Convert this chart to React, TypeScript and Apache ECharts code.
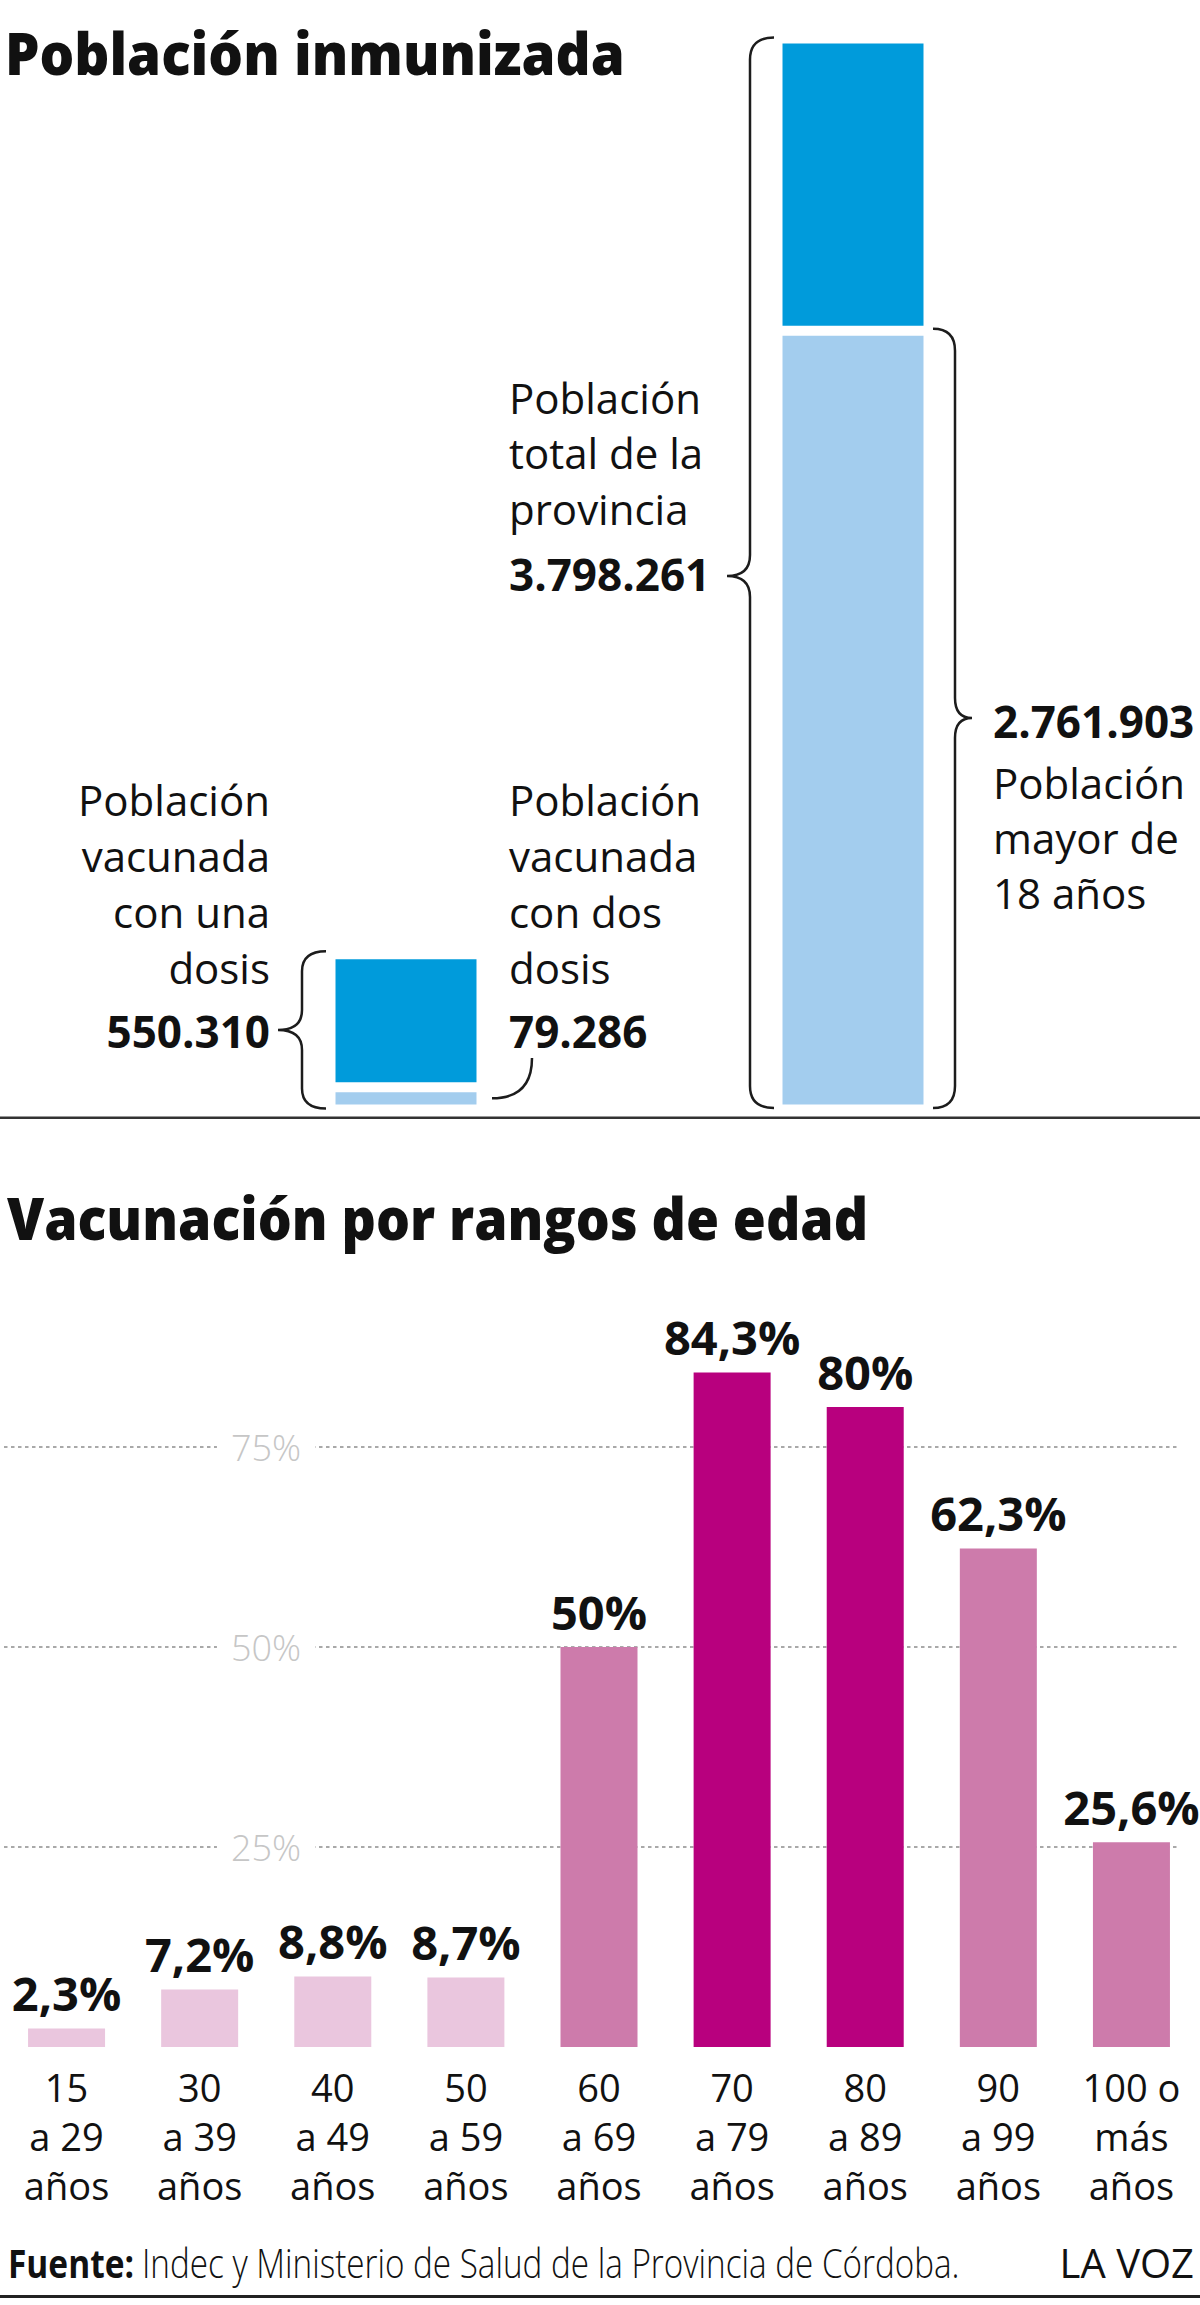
import React, { useEffect, useRef } from "react";
import * as echarts from "echarts";

// ---- Población inmunizada ----
const popCategories = ["Vacunados", "Provincia"];
const totalProvincia = 3798261;
const mayores18 = 2761903;
const unaDosis = 550310;
const dosDosis = 79286;
// light (lower) and dark (upper) segments of each stacked bar
const popBase = [dosDosis, mayores18];
const popRest = [unaDosis - dosDosis, totalProvincia - mayores18];

// ---- Vacunación por rangos de edad ----
const ageRanges = [
  "15\na 29\naños",
  "30\na 39\naños",
  "40\na 49\naños",
  "50\na 59\naños",
  "60\na 69\naños",
  "70\na 79\naños",
  "80\na 89\naños",
  "90\na 99\naños",
  "100 o\nmás\naños",
];
const agePct = [2.3, 7.2, 8.8, 8.7, 50, 84.3, 80, 62.3, 25.6];
const ageTone = ["low", "low", "low", "low", "mid", "high", "high", "mid", "mid"];
const pctTicks = [0, 25, 50, 75, 100];

const toneColor: Record<string, string> = {
  low: "#eac6de",
  mid: "#cd7bab",
  high: "#b8007e",
};
const BLUE_DARK = "#009bdb";
const BLUE_LIGHT = "#a3cdee";
const INK = "#111111";
const SANS = '"Open Sans", "Noto Sans", "DejaVu Sans", sans-serif';

const Brace = echarts.graphic.extendShape({
  type: "brace",
  shape: { x: 0, y1: 0, y2: 0, ym: 0, dir: 1, w: 24, d: 24, h: 20, r: 22 },
  buildPath(ctx: any, s: any) {
    const k = s.dir;
    ctx.moveTo(s.x + k * s.w, s.y1);
    ctx.quadraticCurveTo(s.x, s.y1, s.x, s.y1 + s.r);
    ctx.lineTo(s.x, s.ym - s.h);
    ctx.quadraticCurveTo(s.x, s.ym, s.x - k * s.d, s.ym);
    ctx.quadraticCurveTo(s.x, s.ym, s.x, s.ym + s.h);
    ctx.lineTo(s.x, s.y2 - s.r);
    ctx.quadraticCurveTo(s.x, s.y2, s.x + k * s.w, s.y2);
  },
});
echarts.graphic.registerShape("brace", Brace);

let measureCtx: CanvasRenderingContext2D | null = null;
function measure(text: string, size: number, weight: string | number) {
  if (!measureCtx) measureCtx = document.createElement("canvas").getContext("2d");
  measureCtx!.font = `${weight} ${size}px ${SANS}`;
  return measureCtx!.measureText(text).width;
}

function thousands(n: number) {
  return String(n).replace(/\B(?=(\d{3})+(?!\d))/g, ".");
}

function txt(
  text: string,
  x: number,
  baseline: number,
  size: number,
  weight: string | number,
  align = "left",
  fitWidth?: number
) {
  const sx = fitWidth ? fitWidth / measure(text, size, weight) : 1;
  return {
    type: "text",
    x,
    y: baseline - 0.36 * size,
    scaleX: sx,
    silent: true,
    style: {
      text,
      fill: INK,
      fontSize: size,
      fontWeight: weight,
      fontFamily: SANS,
      align,
      verticalAlign: "middle",
    },
  };
}

const BAR_W = 151;
const BORDER = 5;

export default function App() {
  const ref = useRef<HTMLDivElement>(null);

  useEffect(() => {
    if (!ref.current) return;
    const chart = echarts.init(ref.current, undefined, { renderer: "svg" });

    chart.setOption({
      animation: false,
      backgroundColor: "#ffffff",
      grid: [
        { left: 182.5, top: 38.5, width: 894, height: 1071 },
        { left: -2, top: 1247, width: 1200, height: 800 },
        { left: 4, top: 1247, width: 1173, height: 800 },
      ],
      xAxis: [
        { type: "category", gridIndex: 0, data: popCategories, show: false },
        {
          type: "category",
          gridIndex: 1,
          data: ageRanges,
          axisLine: { show: false },
          axisTick: { show: false },
          axisLabel: {
            interval: 0,
            margin: 15,
            color: INK,
            fontFamily: SANS,
            fontSize: 38,
            lineHeight: 49,
          },
        },
        { type: "value", gridIndex: 2, min: 0, max: 1, show: false },
      ],
      yAxis: [
        { type: "value", gridIndex: 0, min: 0, max: totalProvincia, show: false },
        { type: "value", gridIndex: 1, min: 0, max: 100, show: false },
        {
          type: "value",
          gridIndex: 2,
          min: pctTicks[0],
          max: pctTicks[pctTicks.length - 1],
          interval: pctTicks[1] - pctTicks[0],
          position: "left",
          offset: -262,
          axisLine: { show: false },
          axisTick: { show: false },
          splitLine: {
            show: true,
            showMinLine: false,
            showMaxLine: false,
            lineStyle: { color: "#a9a9a9", width: 2, type: [3.5, 3.5] },
          },
          axisLabel: {
            showMinLabel: false,
            showMaxLabel: false,
            formatter: (v: number) => (v === 0 || v === 100 ? "" : v + "%"),
            align: "center",
            margin: 0,
            color: "#c6c6c6",
            fontFamily: SANS,
            fontWeight: 300,
            fontSize: 36,
            backgroundColor: "#ffffff",
            padding: [0, 14, 7, 14],
          },
        },
      ],
      series: [
        {
          type: "bar",
          xAxisIndex: 0,
          yAxisIndex: 0,
          stack: "pob",
          data: popBase,
          barWidth: BAR_W,
          itemStyle: { color: BLUE_LIGHT, borderColor: "#ffffff", borderWidth: BORDER },
        },
        {
          type: "bar",
          xAxisIndex: 0,
          yAxisIndex: 0,
          stack: "pob",
          data: popRest,
          barWidth: BAR_W,
          itemStyle: { color: BLUE_DARK, borderColor: "#ffffff", borderWidth: BORDER },
        },
        {
          type: "bar",
          xAxisIndex: 1,
          yAxisIndex: 1,
          barWidth: 77,
          data: agePct.map((v, i) => ({ value: v, itemStyle: { color: toneColor[ageTone[i]] } })),
          label: {
            show: true,
            position: "top",
            distance: 12,
            formatter: (p: any) => String(p.value).replace(".", ",") + "%",
            color: INK,
            fontFamily: SANS,
            fontWeight: "bold",
            fontSize: 47,
          },
        },
      ],
    });

    // Bracket geometry follows the stacked bars
    const px = (i: number, v: number) =>
      chart.convertToPixel({ gridIndex: 0 }, [i, v]) as number[];
    const half = BAR_W / 2 - BORDER / 2;
    const [cS, baseY] = px(0, 0);
    const [cB] = px(1, 0);
    const topSmall = px(0, unaDosis)[1];
    const topBig = px(1, totalProvincia)[1];
    const splitBig = px(1, mayores18)[1];
    const splitSmall = px(0, dosDosis)[1];
    const braceStyle = { stroke: "#1c1c1c", lineWidth: 2.5, fill: "none" };

    const elements: any[] = [
      // titles
      txt("Población inmunizada", 5, 74, 58, 800, "left", 620),
      txt("Vacunación por rangos de edad", 7, 1238, 58, 800, "left", 861),

      // rules
      { type: "rect", silent: true, shape: { x: 0, y: 1116.5, width: 1200, height: 2.5 }, style: { fill: "#333333" } },
      { type: "rect", silent: true, shape: { x: 0, y: 2295, width: 1200, height: 3 }, style: { fill: "#222222" } },

      // braces
      {
        type: "brace",
        silent: true,
        shape: { x: cB - half - 30, y1: topBig - 1, y2: baseY - 1.5, ym: 576, dir: 1, w: 24, d: 23, h: 21, r: 22 },
        style: braceStyle,
      },
      {
        type: "brace",
        silent: true,
        shape: { x: cB + half + 29, y1: splitBig - 2, y2: baseY - 1.5, ym: 718, dir: -1, w: 22, d: 17, h: 20, r: 22 },
        style: braceStyle,
      },
      {
        type: "brace",
        silent: true,
        shape: { x: cS - half - 31, y1: topSmall - 3, y2: baseY - 1, ym: 1030, dir: 1, w: 24, d: 24, h: 20, r: 20 },
        style: braceStyle,
      },
      {
        type: "bezierCurve",
        silent: true,
        shape: {
          x1: cS + half + 13,
          y1: (splitSmall + baseY) / 2,
          x2: cS + half + 53,
          y2: 1058,
          cpx1: cS + half + 53,
          cpy1: (splitSmall + baseY) / 2,
        },
        style: braceStyle,
      },

      // total provincia
      txt("Población", 509, 413, 42, 400),
      txt("total de la", 509, 468, 42, 400),
      txt("provincia", 509, 524, 42, 400),
      txt(thousands(totalProvincia), 509, 590, 44, 700),

      // mayores de 18
      txt(thousands(mayores18), 993, 737, 44, 700),
      txt("Población", 993, 798, 42, 400),
      txt("mayor de", 993, 853, 42, 400),
      txt("18 años", 993, 908, 42, 400),

      // una dosis
      txt("Población", 270, 815, 42, 400, "right"),
      txt("vacunada", 270, 871, 42, 400, "right"),
      txt("con una", 270, 927, 42, 400, "right"),
      txt("dosis", 270, 983, 42, 400, "right"),
      txt(thousands(unaDosis), 270, 1047, 44, 700, "right"),

      // dos dosis
      txt("Población", 509, 815, 42, 400),
      txt("vacunada", 509, 871, 42, 400),
      txt("con dos", 509, 927, 42, 400),
      txt("dosis", 509, 983, 42, 400),
      txt(thousands(dosDosis), 509, 1047, 44, 700),

      // footer
      txt("Fuente:", 8, 2277, 40, 700, "left", 126),
      txt("Indec y Ministerio de Salud de la Provincia de Córdoba.", 142, 2277, 40, 300, "left", 818),
      txt("LA VOZ", 1194, 2277, 40, 400, "right"),
    ];

    chart.setOption({ graphic: { elements } });

    return () => chart.dispose();
  }, []);

  return (
    <div
      ref={ref}
      style={{ position: "absolute", left: 0, top: 0, width: 1200, height: 2305, background: "#fff" }}
    />
  );
}
